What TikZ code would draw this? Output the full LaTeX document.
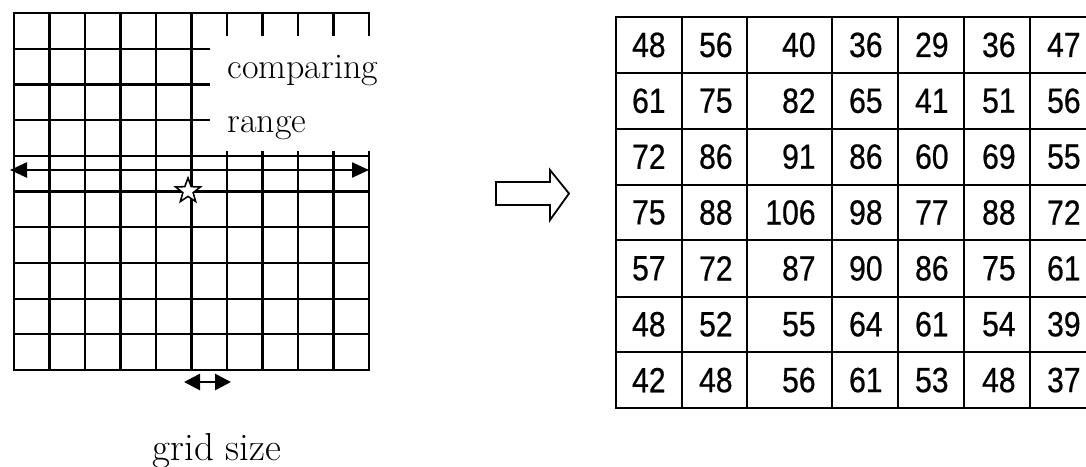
\documentclass[tikz,border=0pt]{standalone}
\usepackage{fontspec}
\newfontfamily\numfont[FakeStretch=0.86,FakeBold=0.6]{Liberation Sans}
\usetikzlibrary{arrows.meta,shapes.geometric}

\tikzset{
  gridline/.style={line width=1.1pt},
  tabline/.style={line width=0.8pt},
  cellnum/.style={font=\numfont\fontsize{17.5}{18}\selectfont,inner sep=0pt,anchor=east},
  lbl/.style={font=\fontsize{18}{20}\selectfont,inner sep=0pt,anchor=base west},
}

\begin{document}
\begin{tikzpicture}[line cap=rect,line join=miter,>={Triangle[length=8.5pt,width=7.5pt]},x=0.5pt,y=-0.5pt]%grid and result
			\useasboundingbox (0,0) rectangle (1086,466);
			\clip (0,0) rectangle (1086,466);
			% left grid
			\foreach \i in {0,...,5} \draw [gridline] ({14+35.5*\i},13)-- ({14+35.5*\i},370);
			\foreach \i in {6,...,10} {
				\draw [gridline] ({14+35.5*\i},13)-- ({14+35.5*\i},35);
				\draw [gridline] ({14+35.5*\i},152)-- ({14+35.5*\i},370);
			}
			\draw [gridline] (14,13)-- (369,13);
			\foreach \j in {1,2,3} \draw [gridline] (14,{13+35.7*\j})-- (209,{13+35.7*\j});
			\foreach \j in {4,...,10} \draw [gridline] (14,{13+35.7*\j})-- (369,{13+35.7*\j});
			\coordinate (rngL) at (10,170);
			\coordinate (rngR) at (369,170);
			\draw [line width=1.2pt,line cap=butt,<->] (rngL)-- (rngR);
			\node [star,star points=5,star point ratio=2.4,draw,fill=white,line width=0.8pt,minimum size=13pt,inner sep=0pt] (centre) at (188,191) {};
			\coordinate (gsL) at (184,382);
			\coordinate (gsR) at (231,382);
			\draw [line width=1.4pt,line cap=butt,<->,>={Triangle[length=8pt,width=8pt]}] (gsL)-- (gsR);
			\node [lbl] (cmp) at (227,78) {comparing};
			\node [lbl] (rng) at (227,132) {range};
			\node [lbl,font=\fontsize{19.5}{22}\selectfont,anchor=base] (gsz) at (217,460) {grid size};
			% hollow arrow
			\draw [line width=0.9pt] (496,182)-- (550,182)-- (550,170)-- (569,193.5)-- (550,220)-- (550,205)-- (496,205)-- cycle;
			% result table
			\foreach \x in {616,682,747,832,898,964,1030,1096} \draw [tabline] (\x,17)-- (\x,408);
			\foreach \y in {17,73,129,185,240,297,352,408} \draw [tabline] (616,\y)-- (1096,\y);
			\foreach \row [count=\r] in {{48,56,40,36,29,36,47},{61,75,82,65,41,51,56},{72,86,91,86,60,69,55},{75,88,106,98,77,88,72},{57,72,87,90,86,75,61},{48,52,55,64,61,54,39},{42,48,56,61,53,48,37}}
				\foreach \v [count=\c] in \row {
					\pgfmathsetmacro\xr{{666,733,816,883,949,1016,1081}[\c-1]}
					\node [cellnum] (n\r\c) at (\xr,{17+55.86*(\r-0.5)}) {\v};
				}
		\end{tikzpicture}
\end{document}
